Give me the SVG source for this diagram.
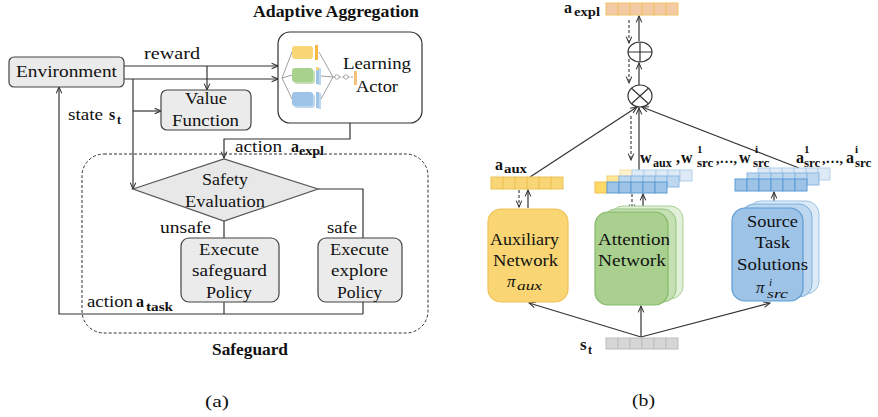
<svg xmlns="http://www.w3.org/2000/svg" width="878" height="417" viewBox="0 0 878 417">
<defs>
<marker id="arr" viewBox="0 0 10 10" refX="9" refY="5" markerWidth="8" markerHeight="8" markerUnits="userSpaceOnUse" orient="auto">
<path d="M1,1.5 L9,5 L1,8.5" fill="none" stroke="#333" stroke-width="1.3"/>
</marker>
<style>
text{font-family:"Liberation Serif","DejaVu Serif",serif;fill:#111}
.t17{font-size:17px}
.t16{font-size:16px}
.b{font-weight:bold}
.sub{font-size:12px;font-weight:bold}
.ln{fill:none;stroke:#333;stroke-width:1.2}
.ar{fill:none;stroke:#333;stroke-width:1.2;marker-end:url(#arr)}
.da{fill:none;stroke:#333;stroke-width:1.1;stroke-dasharray:3,2;marker-end:url(#arr)}
.gbox{fill:#ebebeb;stroke:#444;stroke-width:1.2}
.ye{fill:#f8d575;stroke:#eec257;stroke-width:1}
.pe{fill:#f3c9a6;stroke:#f2c466;stroke-width:1}
.bl1{fill:#9dc3e6;stroke:#5b9bd5;stroke-width:1}
.bl2{fill:#bdd7ee;stroke:#8db8e2;stroke-width:1}
.bl3{fill:#deebf7;stroke:#b4cfea;stroke-width:1}
.gy{fill:#d6d6d6;stroke:#bdbdbd;stroke-width:1}
</style>
</defs>

<!-- (a) -->
<g id="connectors-a">
<path class="ar" d="M124,66 H278"/>
<path class="ar" d="M124,79 H278"/>
<path class="ar" d="M207,66 V90"/>
<path class="ar" d="M133,79 V189"/>
<path class="ar" d="M133,111 H161"/>
<path class="ar" d="M350,123 V139 H224 V158"/>
<path class="ln" d="M318,189 H363 V238"/>
<path class="ln" d="M224,221 V238"/>
<path class="ln" d="M224,302 V314"/>
<path class="ln" d="M363,302 V314"/>
<path class="ar" d="M363,314 H59 V87"/>
</g>

<g id="safeguard-region">
<rect x="82" y="154" width="346" height="179" rx="22" fill="none" stroke="#333" stroke-width="1" stroke-dasharray="3,2"/>
<text class="t16 b" x="212" y="355" textLength="76" lengthAdjust="spacingAndGlyphs">Safeguard</text>
</g>

<g id="environment">
<rect class="gbox" x="9" y="57" width="115" height="30" rx="5"/>
<text class="t17" x="16" y="77" textLength="101" lengthAdjust="spacingAndGlyphs">Environment</text>
</g>

<g id="value-function">
<rect class="gbox" x="161" y="90" width="90" height="40" rx="6"/>
<text class="t17" x="185" y="104" textLength="42" lengthAdjust="spacingAndGlyphs">Value</text>
<text class="t17" x="172" y="126" textLength="67" lengthAdjust="spacingAndGlyphs">Function</text>
</g>

<g id="learning-actor">
<text class="t16 b" x="253" y="17" textLength="166" lengthAdjust="spacingAndGlyphs">Adaptive Aggregation</text>
<rect x="278" y="32" width="144" height="91" rx="12" fill="#fff" stroke="#333" stroke-width="1.2"/>
<g stroke="#777" stroke-width="0.7" fill="none">
<path d="M282,78 L292,52 M282,78 L292,75 M282,78 L292,99"/>
<path d="M319,52 L333,77 M321,76 L333,77 M321,99 L333,77"/>
<path d="M333,77 H354" stroke-dasharray="2,1"/>
</g>
<rect x="292" y="46" width="21" height="13" rx="3" fill="#f8d575"/>
<rect x="315" y="45" width="3" height="15" fill="#f4b942"/>
<rect x="294" y="70" width="21" height="14" rx="3" fill="#c5e0b3"/>
<rect x="292" y="68" width="21" height="14" rx="3" fill="#a9d18e"/>
<rect x="318" y="68" width="3" height="17" fill="#bdd7ee"/>
<rect x="316" y="67" width="3" height="17" fill="#9dc3e6"/>
<rect x="316" y="67" width="3" height="3" fill="#f8d575"/>
<rect x="294" y="94" width="21" height="14" rx="3" fill="#bdd7ee"/>
<rect x="292" y="92" width="21" height="14" rx="3" fill="#9dc3e6"/>
<rect x="318" y="93" width="3" height="16" fill="#bdd7ee"/>
<rect x="316" y="92" width="3" height="16" fill="#9dc3e6"/>
<circle cx="337" cy="77" r="2.2" fill="#fff" stroke="#777" stroke-width="0.6"/>
<circle cx="346" cy="77" r="2.2" fill="#fff" stroke="#777" stroke-width="0.6"/>
<rect x="354" y="71" width="3" height="14" fill="#f4c27a"/>
<text class="t17" x="343" y="69" textLength="68" lengthAdjust="spacingAndGlyphs">Learning</text>
<text class="t17" x="356" y="92" textLength="42" lengthAdjust="spacingAndGlyphs">Actor</text>
</g>

<g id="labels-a">
<text class="t16" x="144" y="59" textLength="56" lengthAdjust="spacingAndGlyphs">reward</text>
<text class="t16" x="68" y="120" textLength="35" lengthAdjust="spacingAndGlyphs">state</text>
<text class="t16 b" x="109" y="120">s</text>
<text class="sub" x="117" y="124">t</text>
<text class="t16" x="235" y="152" textLength="47" lengthAdjust="spacingAndGlyphs">action</text>
<text class="t16 b" x="291" y="152">a</text>
<text class="sub" x="299" y="155" textLength="25" lengthAdjust="spacingAndGlyphs">expl</text>
<text class="t16" x="160" y="233" textLength="51" lengthAdjust="spacingAndGlyphs">unsafe</text>
<text class="t16" x="327" y="233" textLength="30" lengthAdjust="spacingAndGlyphs">safe</text>
<text class="t16" x="87" y="307" textLength="46" lengthAdjust="spacingAndGlyphs">action</text>
<text class="t16 b" x="136" y="307">a</text>
<text class="sub" x="146" y="311" textLength="27" lengthAdjust="spacingAndGlyphs">task</text>
<text class="t17" x="205" y="407" textLength="24" lengthAdjust="spacingAndGlyphs">(a)</text>
</g>

<g id="safety-evaluation">
<polygon points="133,189 224,159 318,189 224,221" fill="#e8e8e8" stroke="#555" stroke-width="1.2"/>
<text class="t17" x="202" y="185" textLength="46" lengthAdjust="spacingAndGlyphs">Safety</text>
<text class="t17" x="185" y="207" textLength="80" lengthAdjust="spacingAndGlyphs">Evaluation</text>
</g>

<g id="execute-safeguard">
<rect class="gbox" x="181" y="238" width="98" height="64" rx="8"/>
<text class="t17" x="199" y="255" textLength="60" lengthAdjust="spacingAndGlyphs">Execute</text>
<text class="t17" x="192" y="276" textLength="75" lengthAdjust="spacingAndGlyphs">safeguard</text>
<text class="t17" x="206" y="298" textLength="46" lengthAdjust="spacingAndGlyphs">Policy</text>
</g>

<g id="execute-explore">
<rect class="gbox" x="318" y="238" width="84" height="64" rx="8"/>
<text class="t17" x="330" y="255" textLength="59" lengthAdjust="spacingAndGlyphs">Execute</text>
<text class="t17" x="331" y="276" textLength="57" lengthAdjust="spacingAndGlyphs">explore</text>
<text class="t17" x="337" y="298" textLength="45" lengthAdjust="spacingAndGlyphs">Policy</text>
</g>

<!-- (b) -->
<g id="connectors-b">
<path class="ar" d="M639,85 V63"/>
<path class="ar" d="M639,41 V16"/>
<path class="da" d="M629,20 V43"/>
<path class="da" d="M629,59 V83"/>
<path class="ar" d="M530,177 L637,107"/>
<path class="ar" d="M799,168 L642,107"/>
<path class="ar" d="M639,170 V108"/>
<path class="da" d="M631,116 V160"/>
<path class="da" d="M519,190 V207"/>
<path class="ar" d="M528,208 V190"/>
<path class="da" d="M632,194 V211"/>
<path class="ar" d="M643,211 V194"/>
<path class="ar" d="M774,208 V192"/>
<path class="ar" d="M641,337 L529,303"/>
<path class="ar" d="M641,337 V306"/>
<path class="ar" d="M641,337 L770,303"/>
</g>

<g id="a-expl">
<g class="pe">
<rect x="606" y="3" width="12" height="12"/><rect x="618" y="3" width="12" height="12"/><rect x="630" y="3" width="12" height="12"/>
<rect x="642" y="3" width="12" height="12"/><rect x="654" y="3" width="12" height="12"/><rect x="666" y="3" width="12" height="12"/>
</g>
<text class="t16 b" x="564" y="13">a</text>
<text class="sub" x="574" y="16" textLength="26" lengthAdjust="spacingAndGlyphs">expl</text>
</g>

<g id="plus">
<ellipse cx="640" cy="52" rx="12" ry="10" fill="#fff" stroke="#333" stroke-width="1.2"/>
<path class="ln" d="M628,52 H652 M640,42 V62"/>
</g>

<g id="times">
<ellipse cx="640" cy="96" rx="12" ry="11" fill="#fff" stroke="#333" stroke-width="1.2"/>
<path class="ln" d="M631.5,88.2 L648.5,103.8 M648.5,88.2 L631.5,103.8"/>
</g>

<g id="auxiliary-network">
<g class="ye">
<rect x="491" y="177" width="12" height="12"/><rect x="503" y="177" width="12" height="12"/><rect x="515" y="177" width="12" height="12"/>
<rect x="527" y="177" width="12" height="12"/><rect x="539" y="177" width="12" height="12"/><rect x="551" y="177" width="12" height="12"/>
</g>
<text class="t16 b" x="495" y="170">a</text>
<text class="sub" x="504" y="173" textLength="23" lengthAdjust="spacingAndGlyphs">aux</text>
<rect x="488" y="209" width="80" height="93" rx="13" fill="#f9d573" stroke="#f0c257" stroke-width="1.2"/>
<text class="t17" x="490" y="245" textLength="69" lengthAdjust="spacingAndGlyphs">Auxiliary</text>
<text class="t17" x="493" y="266" textLength="65" lengthAdjust="spacingAndGlyphs">Network</text>
<text class="t17" x="507" y="287" font-style="italic">π</text>
<text x="517" y="290" font-size="13" font-style="italic" textLength="25" lengthAdjust="spacingAndGlyphs">aux</text>
</g>

<g id="attention-network">
<g class="bl3"><rect x="620" y="170" width="12" height="11" fill="#fff2cc" stroke="#f5e0a8"/><rect x="632" y="170" width="12" height="11"/><rect x="644" y="170" width="12" height="11"/><rect x="656" y="170" width="12" height="11"/><rect x="668" y="170" width="12" height="11"/><rect x="680" y="170" width="12" height="11"/></g>
<g class="bl2"><rect x="607" y="176" width="12" height="11" fill="#ffe699" stroke="#f2d06e"/><rect x="619" y="176" width="12" height="11"/><rect x="631" y="176" width="12" height="11"/><rect x="643" y="176" width="12" height="11"/><rect x="655" y="176" width="12" height="11"/><rect x="667" y="176" width="12" height="11"/></g>
<g class="bl1"><rect x="595" y="182" width="12" height="11" fill="#ffd966" stroke="#eec257"/><rect x="607" y="182" width="12" height="11"/><rect x="619" y="182" width="12" height="11"/><rect x="631" y="182" width="12" height="11"/><rect x="643" y="182" width="12" height="11"/><rect x="655" y="182" width="12" height="11"/></g>
<rect x="610" y="206" width="73" height="93" rx="13" fill="#e2efd9" stroke="#a9d18e" stroke-width="1"/>
<rect x="603" y="209" width="73" height="93" rx="13" fill="#c5e0b3" stroke="#93c47d" stroke-width="1"/>
<rect x="595" y="212" width="73" height="93" rx="13" fill="#a9d08e" stroke="#86b86a" stroke-width="1.2"/>
<text class="t17" x="598" y="245" textLength="72" lengthAdjust="spacingAndGlyphs">Attention</text>
<text class="t17" x="598" y="266" textLength="68" lengthAdjust="spacingAndGlyphs">Network</text>
</g>

<g id="source-task-solutions">
<g class="bl3"><rect x="758" y="168" width="12" height="12"/><rect x="770" y="168" width="12" height="12"/><rect x="782" y="168" width="12" height="12"/><rect x="794" y="168" width="12" height="12"/><rect x="806" y="168" width="12" height="12"/><rect x="818" y="168" width="12" height="12"/></g>
<g class="bl2"><rect x="747" y="173" width="12" height="12"/><rect x="759" y="173" width="12" height="12"/><rect x="771" y="173" width="12" height="12"/><rect x="783" y="173" width="12" height="12"/><rect x="795" y="173" width="12" height="12"/><rect x="807" y="173" width="12" height="12"/></g>
<g class="bl1"><rect x="735" y="179" width="12" height="12"/><rect x="747" y="179" width="12" height="12"/><rect x="759" y="179" width="12" height="12"/><rect x="771" y="179" width="12" height="12"/><rect x="783" y="179" width="12" height="12"/><rect x="795" y="179" width="12" height="12"/></g>
<rect x="748" y="201" width="71" height="93" rx="13" fill="#deebf7" stroke="#9dc3e6" stroke-width="1"/>
<rect x="741" y="204" width="71" height="93" rx="13" fill="#bdd7ee" stroke="#7fb0de" stroke-width="1"/>
<rect x="732" y="208" width="71" height="93" rx="13" fill="#9dc3e6" stroke="#5b9bd5" stroke-width="1.2"/>
<text class="t17" x="747" y="227" textLength="51" lengthAdjust="spacingAndGlyphs">Source</text>
<text class="t17" x="755" y="248" textLength="35" lengthAdjust="spacingAndGlyphs">Task</text>
<text class="t17" x="737" y="270" textLength="71" lengthAdjust="spacingAndGlyphs">Solutions</text>
<text class="t17" x="756" y="293" font-style="italic">π</text>
<text x="769" y="286" font-size="11" font-style="italic">i</text>
<text x="767" y="298" font-size="12" font-style="italic" textLength="21" lengthAdjust="spacingAndGlyphs">src</text>
</g>

<g id="weights-label">
<text class="b" font-size="16" y="163"><tspan x="640" y="163">w</tspan><tspan x="653" y="167" font-size="12">aux</tspan><tspan x="676" y="163">,</tspan><tspan x="681" y="163">w</tspan><tspan x="697" y="153" font-size="11">1</tspan><tspan x="697" y="167" font-size="13">src</tspan><tspan x="716" y="163" font-size="14">,…,</tspan><tspan x="739" y="163">w</tspan><tspan x="755" y="153" font-size="11">i</tspan><tspan x="753" y="167" font-size="13">src</tspan></text>
</g>

<g id="actions-label">
<text class="b" font-size="16" y="163"><tspan x="796" y="163">a</tspan><tspan x="804" y="153" font-size="11">1</tspan><tspan x="804" y="167" font-size="13">src</tspan><tspan x="822" y="163" font-size="14">,…,</tspan><tspan x="846" y="163">a</tspan><tspan x="855" y="153" font-size="11">i</tspan><tspan x="855" y="167" font-size="13">src</tspan></text>
</g>

<g id="state-vector">
<g class="gy">
<rect x="606" y="338" width="12" height="11"/><rect x="618" y="338" width="12" height="11"/><rect x="630" y="338" width="12" height="11"/>
<rect x="642" y="338" width="12" height="11"/><rect x="654" y="338" width="12" height="11"/><rect x="666" y="338" width="12" height="11"/>
</g>
<text class="t17 b" x="580" y="350">s</text>
<text class="sub" x="588" y="354">t</text>
</g>

<text class="t17" x="632" y="406" textLength="23" lengthAdjust="spacingAndGlyphs">(b)</text>
</svg>
